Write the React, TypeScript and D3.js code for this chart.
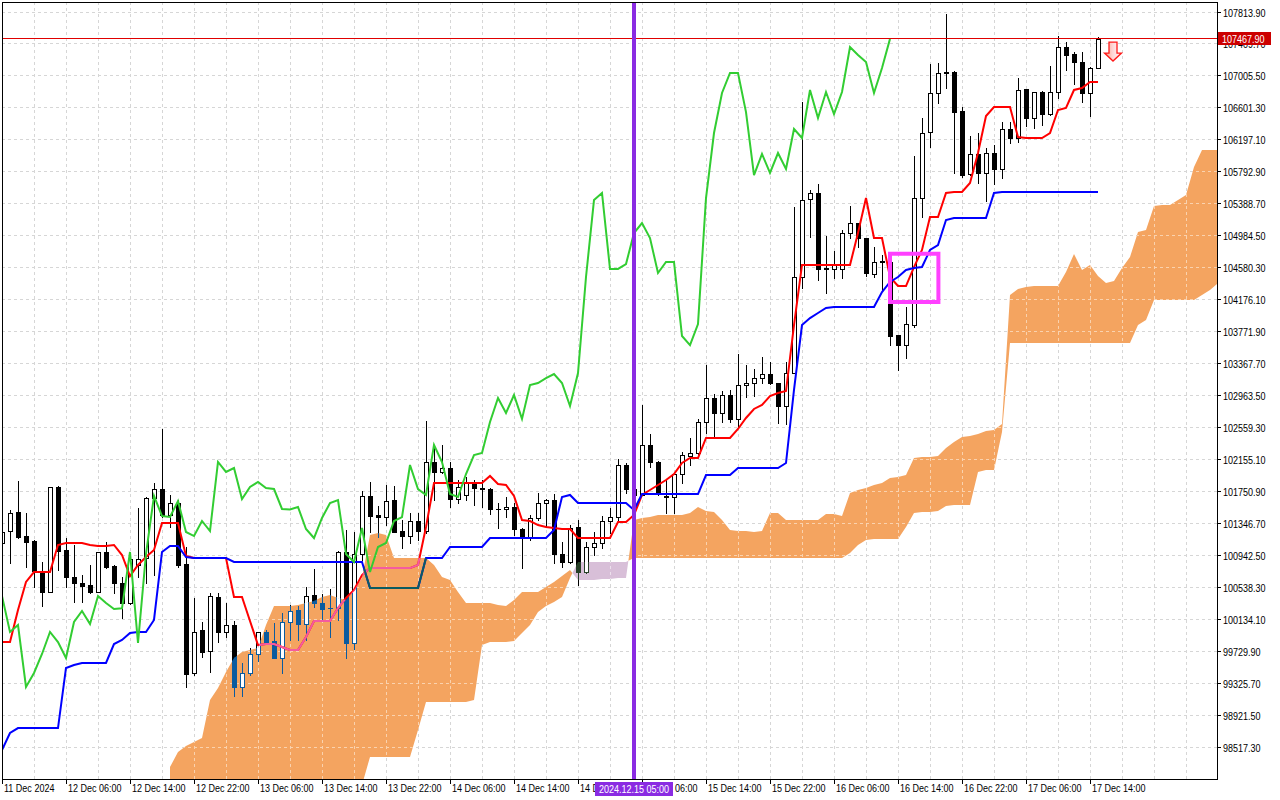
import React from "react";
import * as d3 from "d3";

// Hourly bars, first bar = 2024-12-11 22:00 (BTCUSD H1, Ichimoku)
const open = [
  101096,101247,101488,101184,101121,100729,100476,101804,101007,100666,
  100590,100565,100476,100982,100805,100590,100337,100818,100906,101665,
  101778,101450,101601,100830,99453,99996,99731,100413,99971,100059,
  99276,99453,99693,99971,99857,99642,100097,100249,100072,100439,
  100337,100274,100274,100982,99832,100957,101690,101450,101424,101639,
  101247,101184,101374,101247,102120,101994,102044,101652,101703,101867,
  101791,101778,101526,101526,101551,101273,101159,101412,101601,101639,
  100957,100856,101298,100729,101045,101096,101374,101424,102082,101778,
  101703,102335,102120,101690,101677,101968,102196,102233,102625,102928,
  102739,102966,102664,103093,103118,103181,103232,103118,102827,103244,
  104458,105444,105520,104572,104559,104559,105014,105140,104951,104496,
  104660,104648,103724,103598,103851,105456,106291,106784,107049,107049,
  106556,105760,106013,105773,106025,105823,106329,106215,106834,106468,
  106796,106518,106796,107365,107277,107176,106784,107100
];
const high = [
  101260,101513,101879,101475,101134,100856,101804,101816,101159,101071,
  100691,100818,100982,101108,100818,100666,100893,101538,101677,101854,
  102537,101703,101639,101045,100401,100097,100464,100464,100337,100110,
  99579,99769,99971,99996,100084,100211,100312,100300,100540,100767,
  100451,100514,100995,101260,101235,101753,101867,101563,101829,101816,
  101386,101475,101475,102638,102335,102335,102120,101892,101930,101892,
  101892,101791,101601,101677,101601,101285,101450,101728,101652,101715,
  101108,101323,101386,101108,101235,101437,101538,102158,102107,101892,
  102840,102474,102132,101892,101968,102246,102423,102664,103345,102979,
  103017,103030,103485,103345,103295,103447,103383,103118,103383,105343,
  106670,105558,105634,104976,104787,105052,105355,105140,104951,104837,
  104736,104698,103724,104079,105987,106468,107150,107163,107782,107062,
  106607,106240,106278,106088,106126,106417,106417,106973,106834,106796,
  106809,107125,107504,107428,107302,107302,107112,107492
];
const low = [
  101058,100843,101159,100792,100540,100300,100476,100754,100540,100350,
  100350,100464,100476,100779,100464,100148,100325,100666,100590,100691,
  101424,101298,100792,99276,99427,99655,99465,99844,99907,99162,
  99162,99427,99604,99832,99642,99453,99870,99870,99870,100287,
  100123,99907,100123,99642,99756,100881,101235,101172,101323,101235,
  101033,101096,101134,101222,101639,101981,101551,101601,101639,101576,
  101551,101462,101285,101424,101197,100779,101134,101386,101298,100843,
  100792,100843,100565,100716,100944,101033,101222,101386,101728,101639,
  101703,102057,101703,101475,101475,101854,102082,102221,102486,102423,
  102625,102625,102550,102941,102953,103118,103105,102612,102600,103244,
  104319,104963,104420,104256,104445,104445,104951,104837,104471,104458,
  104294,103598,103282,103434,103826,105216,106101,106657,106847,105773,
  105722,105747,105646,105418,105634,105709,106152,106164,106367,106341,
  106379,106506,106720,107074,106897,106670,106493,107100
];
const close = [
  101235,101475,101172,101108,100742,100476,101804,100995,100666,100590,
  100552,100476,100982,100792,100590,100337,100893,100893,101665,101778,
  101450,101601,100818,99440,99971,99718,100426,99971,100059,99276,
  99453,99693,99971,99844,99642,100097,100236,100072,100426,100337,
  100261,100270,100982,99832,100957,101690,101437,101424,101627,101235,
  101184,101374,101247,102120,101994,102044,101652,101804,101867,101791,
  101778,101526,101520,101551,101273,101159,101412,101601,101639,100957,
  100856,101285,100729,101045,101096,101374,101424,102082,101778,101703,
  102335,102120,101715,101677,101968,102208,102233,102625,102928,102739,
  102966,102664,103093,103118,103181,103232,103118,102827,103244,104458,
  105431,105520,104559,104560,104622,105014,105140,104951,104509,104648,
  104648,103712,103598,103864,105456,106278,106784,107037,107037,106543,
  105747,106013,105773,106025,105823,106329,106215,106822,106468,106796,
  106518,106796,107365,107264,107176,106784,107100,107467.9
];

// Tenkan-sen (red) and Kijun-sen (blue), per bar
const tenkan = [
  99844,99844,100249,100603,100729,100729,100729,101071,101096,101096,
  101096,101071,101058,101058,101071,100944,100678,100818,100919,101007,
  101348,101348,101348,100931,100906,100906,100906,100906,100906,100413,
  100413,100110,99806,99819,99819,99781,99743,99743,99907,100110,
  100110,100110,100274,100401,100502,100691,100779,100779,100779,100779,
  100779,100779,100818,101298,101854,101854,101854,101854,101854,101854,
  101854,101943,101842,101829,101690,101386,101374,101323,101298,101285,
  101273,101273,101159,101159,101159,101159,101159,101361,101361,101450,
  101703,101766,101829,101892,101968,102107,102170,102170,102423,102423,
  102423,102423,102537,102676,102790,102840,102954,102992,103017,103851,
  104610,104610,104610,104610,104610,104610,104610,105014,105456,104951,
  104951,104458,104344,104344,104584,104799,105216,105216,105520,105532,
  105532,105646,106025,106493,106607,106607,106607,106227,106215,106215,
  106215,106278,106569,106594,106822,106847,106923,106923
];
const kijun = [
  98479,98694,98757,98757,98757,98757,98757,98757,99516,99554,
  99579,99579,99579,99579,99819,99870,99958,99971,99971,100123,
  100982,101058,101058,100919,100906,100906,100906,100906,100906,100856,
  100856,100856,100856,100856,100856,100856,100856,100856,100856,100856,
  100856,100856,100856,100856,100856,100856,100527,100527,100527,100527,
  100527,100527,100527,100906,100906,100906,101045,101045,101045,101045,
  101045,101159,101159,101159,101159,101159,101159,101159,101159,101260,
  101677,101703,101601,101601,101601,101601,101601,101601,101601,101513,
  101715,101715,101715,101715,101715,101715,101715,101715,101955,101955,
  101955,101955,102044,102044,102044,102044,102044,102044,102107,103030,
  103851,103939,104003,104066,104079,104079,104079,104079,104079,104079,
  104268,104395,104458,104547,104572,104584,104799,104862,105178,105204,
  105204,105204,105204,105204,105520,105532,105532,105532,105532,105532,
  105532,105532,105532,105532,105532,105532,105532,105532
];

// Senkou span A / B (cloud), from bar 21 to bar 152 (26 bars into the future)
const SPAN_START = 21;
const spanA = [
  98264,98454,98530,98580,98631,99111,99263,99465,99642,99718,
  99743,99769,100059,100300,100300,100300,100312,100337,100363,100413,
  100439,100401,100375,100502,100653,101197,101222,101197,100906,100906,
  100906,100906,100906,100818,100666,100628,100476,100337,100337,100337,
  100337,100312,100300,100375,100476,100476,100476,100540,100603,100678,
  100754,100628,100628,100628,100641,100641,100653,100653,101386,101412,
  101424,101450,101450,101450,101450,101475,101551,101500,101488,101386,
  101260,101247,101247,101235,101247,101475,101475,101386,101386,101386,
  101386,101386,101462,101462,101437,101728,101766,101791,101829,101854,
  101917,101930,101956,102170,102183,102183,102196,102297,102373,102436,
  102449,102474,102512,102524,102600,104230,104306,104331,104344,104344,
  104344,104344,104521,104748,104547,104610,104471,104382,104408,104572,
  104711,105027,105052,105355,105368,105368,105431,105495,105849,106063,
  106063,106063
];
const spanB = [
  97847,97847,97847,97847,97847,97847,97847,97847,97847,97847,
  97847,97847,97847,97847,97847,97847,97847,97847,97847,97847,
  97847,97847,97847,97847,98037,98391,98391,98391,98391,98391,
  98391,98732,99086,99086,99086,99086,99086,99086,99111,99806,
  99844,99844,99844,99857,99958,100059,100224,100300,100350,100413,
  100653,100856,100856,100856,100856,100856,100856,100856,100906,100906,
  100906,100906,100906,100906,100906,100906,100906,100906,100906,100906,
  100906,100906,100906,100906,100906,100906,100906,100906,100906,100906,
  100906,100906,100906,100906,100906,100970,101071,101134,101146,101146,
  101146,101146,101298,101475,101488,101488,101500,101563,101576,101576,
  101576,101993,102019,102019,102499,103624,103624,103624,103624,103624,
  103624,103624,103624,103624,103624,103624,103624,103624,103624,103624,
  103624,103851,103914,104167,104167,104167,104167,104167,104167,104230,
  104294,104382
];

const CHIKOU_SHIFT = 26;

const priceTicks = [
  107813.9,107409.7,107005.5,106601.3,106197.1,105792.9,105388.7,104984.5,
  104580.3,104176.1,103771.9,103367.7,102963.5,102559.3,102155.1,101750.9,
  101346.7,100942.5,100538.3,100134.1,99729.9,99325.7,98921.5,98517.3
];
const timeLabelBars = [0,8,16,24,32,40,48,56,64,72,80,88,96,104,112,120,128,136];
const timeLabels = [
  "11 Dec 2024","12 Dec 06:00","12 Dec 14:00","12 Dec 22:00","13 Dec 06:00",
  "13 Dec 14:00","13 Dec 22:00","14 Dec 06:00","14 Dec 14:00","14 Dec 22:00",
  "15 Dec 06:00","15 Dec 14:00","15 Dec 22:00","16 Dec 06:00","16 Dec 14:00",
  "16 Dec 22:00","17 Dec 06:00","17 Dec 14:00"
];

const CURRENT_PRICE = 107467.9;
const VLINE_BAR = 79;
const VLINE_LABEL = "2024.12.15 05:00";
const BOX = { bar0: 111, bar1: 117.05, pTop: 104752, pBottom: 104142 };
const ARROW = { bar: 138.875, price: 107428 };

const FONT = "'Liberation Sans', Arial, sans-serif";
const SX = 0.82;

const L = 2, T = 2, R = 1217, B = 779;
const x = d3.scaleLinear().domain([0, 137]).range([2, 1098]);
const y = d3.scaleLinear().domain([98517.3, 107813.9]).range([747, 11.5]);

function buildCloud() {
  let bull = "";
  let bear = "";
  const f = (v: number) => v.toFixed(2);
  for (let k = 0; k < spanA.length - 1; k++) {
    const i0 = SPAN_START + k;
    const i1 = i0 + 1;
    const a0 = spanA[k], b0 = spanB[k], a1 = spanA[k + 1], b1 = spanB[k + 1];
    const d0 = a0 - b0, d1 = a1 - b1;
    if ((d0 >= 0 && d1 >= 0) || (d0 <= 0 && d1 <= 0)) {
      const p = `M${f(x(i0))},${f(y(a0))}L${f(x(i1))},${f(y(a1))}L${f(x(i1))},${f(y(b1))}L${f(x(i0))},${f(y(b0))}Z`;
      if (d0 + d1 >= 0) bull += p; else bear += p;
    } else {
      const t = d0 / (d0 - d1);
      const im = i0 + t;
      const pm = a0 + (a1 - a0) * t;
      const t0 = `M${f(x(i0))},${f(y(a0))}L${f(x(im))},${f(y(pm))}L${f(x(i0))},${f(y(b0))}Z`;
      const t1 = `M${f(x(im))},${f(y(pm))}L${f(x(i1))},${f(y(a1))}L${f(x(i1))},${f(y(b1))}Z`;
      if (d0 > 0) { bull += t0; bear += t1; } else { bear += t0; bull += t1; }
    }
  }
  return { bull, bear };
}

function Candles({ color }: { color: string }) {
  return (
    <g>
      {open.map((o, i) => {
        const c = close[i];
        const cx = Math.round(x(i));
        const yH = Math.round(y(high[i]));
        const yL = Math.round(y(low[i]));
        const yO = Math.round(y(o));
        const yC = Math.round(y(c));
        const top = Math.min(yO, yC);
        const bot = Math.max(yO, yC);
        const bull = c > o;
        return (
          <g key={i}>
            <line x1={cx + 0.5} x2={cx + 0.5} y1={yH} y2={yL + 1} stroke={color} strokeWidth={1} />
            {bot - top < 1 ? (
              <line x1={cx - 2} x2={cx + 3} y1={top + 0.5} y2={top + 0.5} stroke={color} strokeWidth={1} />
            ) : (
              <rect x={cx - 1.5} y={top + 0.5} width={4} height={bot - top} fill={bull ? "#ffffff" : color} stroke={color} strokeWidth={1} />
            )}
          </g>
        );
      })}
    </g>
  );
}

function Lines({ red, blue }: { red: string; blue: string }) {
  const line = d3.line<number>().x((_, i) => x(i)).y((v) => y(v));
  return (
    <g fill="none" strokeWidth={2}>
      <path d={line(tenkan) || ""} stroke={red} />
      <path d={line(kijun) || ""} stroke={blue} />
    </g>
  );
}

function NText({ tx, ty, anchor, fill, children }: { tx: number; ty: number; anchor?: string; fill?: string; children: React.ReactNode }) {
  return (
    <text transform={`translate(${tx},${ty}) scale(${SX},1)`} textAnchor={anchor || "start"} fill={fill || "#000"}>
      {children}
    </text>
  );
}

export default function App() {
  const { bull, bear } = buildCloud();
  const chikouIdx = d3.range(0, close.length - CHIKOU_SHIFT);
  const chikouPath = d3.line<number>().x((i) => x(i)).y((i) => y(close[i + CHIKOU_SHIFT]))(chikouIdx) || "";

  const vGrid = d3.range(0, 153, 4).map((b) => Math.round(x(b)) + 0.5).filter((v) => v < R);
  const hGrid = priceTicks.map((p) => Math.round(y(p)) + 0.5);

  const grid = (stroke: string) => (
    <g stroke={stroke} strokeWidth={1} strokeDasharray="3,3">
      {vGrid.map((gx, k) => <line key={"v" + k} x1={gx} x2={gx} y1={T} y2={B} />)}
      {hGrid.map((gy, k) => <line key={"h" + k} x1={L} x2={R} y1={gy} y2={gy} />)}
    </g>
  );

  const yCur = Math.floor(y(CURRENT_PRICE)) + 0.5;
  const vx = x(VLINE_BAR);
  const bx0 = x(BOX.bar0), bx1 = x(BOX.bar1), by0 = y(BOX.pTop), by1 = y(BOX.pBottom);
  const ax = x(ARROW.bar), ay = y(ARROW.price);
  const arrowPath = `M${ax - 4},${ay}L${ax + 4},${ay}L${ax + 4},${ay + 11}L${ax + 8.5},${ay + 11}L${ax},${ay + 19}L${ax - 8.5},${ay + 11}L${ax - 4},${ay + 11}Z`;
  const fmt = d3.format(".2f");

  return (
    <svg width={1280} height={800} style={{ position: "fixed", left: 0, top: 0, background: "#fff" }}>
      <defs>
        <clipPath id="plot"><rect x={L + 1} y={T + 1} width={R - L - 1} height={B - T - 1} /></clipPath>
        <clipPath id="cbull"><path d={bull} /></clipPath>
        <clipPath id="cbear"><path d={bear} /></clipPath>
        <linearGradient id="arrowFill" x1="0" x2="1" y1="0" y2="0">
          <stop offset="0" stopColor="#f6a27a" />
          <stop offset="0.45" stopColor="#ffd2d2" />
          <stop offset="1" stopColor="#ffffff" />
        </linearGradient>
      </defs>
      <rect x={0} y={0} width={1280} height={800} fill="#ffffff" />
      <g clipPath="url(#plot)">
        {grid("#d6d6d6")}
        <path d={bull} fill="#f4a460" />
        <path d={bear} fill="#d8bfd8" />
        <g clipPath="url(#cbull)">{grid("#fad2ae")}</g>
        <g clipPath="url(#cbear)">{grid("#ece0ec")}</g>
        <Candles color="#000000" />
        <g clipPath="url(#cbull)"><Candles color="#0b5b9f" /></g>
        <g clipPath="url(#cbear)"><Candles color="#274027" /></g>
        <Lines red="#ff0000" blue="#0000ff" />
        <g clipPath="url(#cbull)"><Lines red="#f45b9f" blue="#0b5b60" /></g>
        <g clipPath="url(#cbear)"><Lines red="#d84027" blue="#2740d8" /></g>
        <path d={chikouPath} fill="none" stroke="#32cd32" strokeWidth={2} />
        <line x1={L} x2={R} y1={yCur} y2={yCur} stroke="#e00000" strokeWidth={1} />
        <rect x={vx - 2} y={T} width={4} height={B - T} fill="#8a2be2" />
        <rect x={bx0} y={by0} width={bx1 - bx0} height={by1 - by0} fill="none" stroke="#ff40ff" strokeWidth={4} />
        <path d={arrowPath} fill="url(#arrowFill)" stroke="#ff1a1a" strokeWidth={1.3} strokeLinejoin="miter" />
      </g>
      <rect x={L + 0.5} y={T + 0.5} width={R - L} height={B - T} fill="none" stroke="#000" strokeWidth={1} />
      <g fontFamily={FONT} fontSize={11}>
        {priceTicks.map((p, k) => {
          const ty = Math.round(y(p)) + 0.5;
          return (
            <g key={k}>
              <line x1={R} x2={R + 4} y1={ty} y2={ty} stroke="#000" />
              <NText tx={R + 6} ty={ty + 4}>{fmt(p)}</NText>
            </g>
          );
        })}
        {timeLabelBars.map((b, k) => {
          const tx = Math.round(x(b)) + 0.5;
          return (
            <g key={"t" + k}>
              <line x1={tx} x2={tx} y1={B} y2={B + 5} stroke="#000" />
              <NText tx={tx + 1.5} ty={792}>{timeLabels[k]}</NText>
            </g>
          );
        })}
        <rect x={R + 1} y={yCur - 6.5} width={53} height={13} fill="#cc0000" />
        <NText tx={R + 5} ty={yCur + 4} fill="#ffffff">{fmt(CURRENT_PRICE)}</NText>
        <rect x={vx - 39} y={782} width={78} height={14} fill="#8a2be2" />
        <NText tx={vx} ty={793} anchor="middle" fill="#ffffff">{VLINE_LABEL}</NText>
      </g>
    </svg>
  );
}
